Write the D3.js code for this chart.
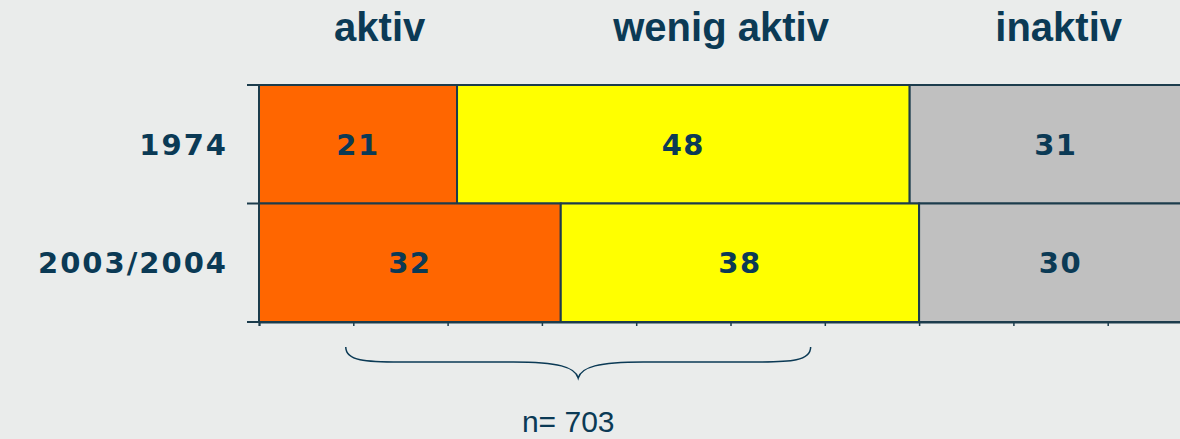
<!DOCTYPE html>
<html>
<head>
<meta charset="utf-8">
<script src="https://cdn.jsdelivr.net/npm/d3@7"></script>
<style>
  html, body { margin: 0; padding: 0; background: #eaeceb; overflow: hidden; }
  svg { display: block; }
</style>
</head>
<body>
<script>
// data
var years = ["1974", "2003/2004"];
var groups = ["aktiv", "wenig aktiv", "inaktiv"];
var aktiv = [21, 32];
var wenigAktiv = [48, 38];
var inaktiv = [31, 30];
var xTicks = [0, 10, 20, 30, 40, 50, 60, 70, 80, 90, 100];
var sampleNote = "n= 703";

var width = 1180,
    height = 439,
    ink = "#0b3a55",
    colors = ["#ff6600", "#ffff00", "#c0c0c0"],
    headerPos = [12.8, 49, 84.8]; // header centres, in percent along x

var svg = d3.select("body").append("svg")
    .attr("width", width)
    .attr("height", height);

var x = d3.scaleLinear().domain([0, 100]).range([259, 1202]);
var y = d3.scaleBand().domain(years).range([85, 322]).padding(0);

var rows = years.map(function (yr, i) {
    return { year: yr, values: [aktiv[i], wenigAktiv[i], inaktiv[i]] };
});

var stacked = rows.map(function (r) {
    var acc = 0;
    return r.values.map(function (v, j) {
        var seg = { year: r.year, value: v, x0: acc, x1: acc + v, k: j };
        acc += v;
        return seg;
    });
});

var segs = [].concat.apply([], stacked);

// bars
svg.append("g").selectAll("rect")
    .data(segs)
    .enter().append("rect")
    .attr("x", function (d) { return x(d.x0); })
    .attr("y", function (d) { return y(d.year); })
    .attr("width", function (d) { return x(d.x1) - x(d.x0); })
    .attr("height", y.bandwidth())
    .attr("fill", function (d) { return colors[d.k]; })
    .attr("stroke", "#1c3c4c")
    .attr("stroke-width", 2);

// value labels
svg.append("g").selectAll("text")
    .data(segs)
    .enter().append("text")
    .attr("x", function (d) { return (x(d.x0) + x(d.x1)) / 2; })
    .attr("y", function (d) { return y(d.year) + y.bandwidth() / 2; })
    .attr("dy", "0.36em")
    .attr("text-anchor", "middle")
    .style("font-family", "'DejaVu Sans', Verdana, sans-serif")
    .style("font-weight", "bold")
    .style("font-size", "29px")
    .style("letter-spacing", "1.5px")
    .attr("fill", ink)
    .text(function (d) { return d.value; });

// bottom axis (ticks only)
var xAxis = svg.append("g")
    .attr("transform", "translate(0,322)")
    .call(d3.axisBottom(x).tickValues(xTicks).tickSize(4).tickFormat(""));
xAxis.select(".domain").attr("stroke", "#1c3c4c").attr("stroke-width", 2);
xAxis.selectAll(".tick line").attr("stroke", "#1c3c4c").attr("stroke-width", 1.5);

// left axis
var yEdges = [y.range()[0]].concat(years.map(function (d) { return y(d) + y.bandwidth(); }));
var yAxis = svg.append("g");
yAxis.append("line")
    .attr("x1", x(0)).attr("x2", x(0))
    .attr("y1", y.range()[0]).attr("y2", y.range()[1])
    .attr("stroke", "#1c3c4c").attr("stroke-width", 2);
yAxis.selectAll("line.tk")
    .data(yEdges)
    .enter().append("line")
    .attr("class", "tk")
    .attr("x1", x(0) - 12).attr("x2", x(0))
    .attr("y1", function (d) { return d; })
    .attr("y2", function (d) { return d; })
    .attr("stroke", "#1c3c4c").attr("stroke-width", 2);

// year labels
svg.append("g").selectAll("text")
    .data(years)
    .enter().append("text")
    .attr("x", 228)
    .attr("y", function (d) { return y(d) + y.bandwidth() / 2; })
    .attr("dy", "0.36em")
    .attr("text-anchor", "end")
    .style("font-family", "'DejaVu Sans', Verdana, sans-serif")
    .style("font-weight", "bold")
    .style("font-size", "29px")
    .style("letter-spacing", "2px")
    .attr("fill", ink)
    .text(function (d) { return d; });

// group headers
svg.append("g").selectAll("text")
    .data(groups)
    .enter().append("text")
    .attr("x", function (d, j) { return x(headerPos[j]); })
    .attr("y", 41)
    .attr("text-anchor", "middle")
    .style("font-family", "'Liberation Sans', Arial, sans-serif")
    .style("font-weight", "bold")
    .style("font-size", "40px")
    .attr("fill", ink)
    .text(function (d) { return d; });

// curly brace
var bx0 = x(9.2), bx1 = x(58.5), bm = (bx0 + bx1) / 2, by = 347;
svg.append("path")
    .attr("d", "M" + bx0 + "," + by +
        " C" + bx0 + "," + (by + 14) + " " + (bx0 + 20) + "," + (by + 15) + " " + (bx0 + 55) + "," + (by + 15) +
        " L" + (bm - 65) + "," + (by + 15) +
        " C" + (bm - 20) + "," + (by + 15) + " " + (bm - 3) + "," + (by + 20) + " " + bm + "," + (by + 31) +
        " C" + (bm + 3) + "," + (by + 20) + " " + (bm + 20) + "," + (by + 15) + " " + (bm + 65) + "," + (by + 15) +
        " L" + (bx1 - 55) + "," + (by + 15) +
        " C" + (bx1 - 20) + "," + (by + 15) + " " + bx1 + "," + (by + 14) + " " + bx1 + "," + by)
    .attr("fill", "none")
    .attr("stroke", ink)
    .attr("stroke-width", 1.5);

svg.append("text")
    .attr("x", bm - 10)
    .attr("y", 432)
    .attr("text-anchor", "middle")
    .style("font-family", "'Liberation Sans', Arial, sans-serif")
    .style("font-size", "30px")
    .attr("fill", ink)
    .text(sampleNote);
</script>
</body>
</html>
